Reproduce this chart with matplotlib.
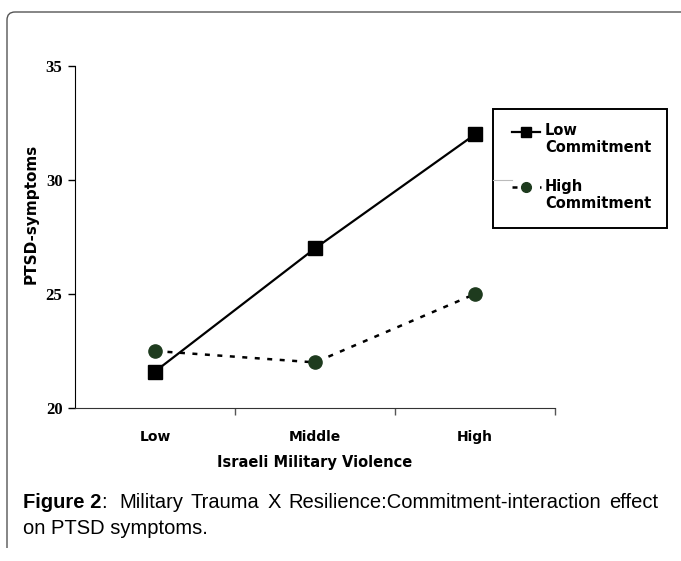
import matplotlib
matplotlib.use("Agg")
import matplotlib.pyplot as plt
from matplotlib.path import Path
from matplotlib.patches import PathPatch, Rectangle
from matplotlib.lines import Line2D

categories = ["Low", "Middle", "High"]
low_commitment = [21.6, 27.0, 32.0]
high_commitment = [22.5, 22.0, 25.0]
y_ticks = [20, 25, 30, 35]
series_names = ["Low\nCommitment", "High\nCommitment"]
caption_words = ["Military", "Trauma", "X", "Resilience:Commitment-interaction", "effect"]

W, H = 681, 561
fig = plt.figure(figsize=(W / 100, H / 100), dpi=100)

def fx(px):
    return px / W

def fy(py):
    return 1 - py / H

ax = fig.add_axes([fx(75), fy(408), fx(555) - fx(75), fy(66) - fy(408)])
xs = [i + 0.5 for i in range(len(categories))]

low_style = dict(color="black", lw=1.6, marker="s", markerfacecolor="black",
                 markeredgecolor="black")
high_style = dict(color="black", lw=1.8, linestyle=(0, (2, 3)), marker="o",
                  markerfacecolor="#1e3b1e", markeredgecolor="#1e3b1e")

ax.plot(xs, low_commitment, markersize=9.5, **low_style)
ax.plot(xs, high_commitment, markersize=9.5, **high_style)

ax.set_xlim(0, len(categories))
ax.set_ylim(min(y_ticks), max(y_ticks))
ax.set_yticks(y_ticks)
ax.set_yticklabels([str(t) for t in y_ticks], fontfamily="Liberation Serif",
                   fontweight="bold", fontsize=12)
ax.set_xticks([1, 2, 3])
ax.set_xticklabels([])
ax.set_xticks(xs, minor=True)
ax.set_xticklabels(categories, minor=True, fontfamily="DejaVu Sans",
                   fontweight="bold", fontsize=10)
ax.tick_params(axis="x", which="minor", length=0, pad=16)
ax.tick_params(axis="x", which="major", length=5, direction="out", width=1, color="#555555")
ax.tick_params(axis="y", length=5, direction="out", width=1, pad=4)

for s in ["top", "right"]:
    ax.spines[s].set_visible(False)
ax.spines["bottom"].set_color("#333333")

ax.set_xlabel("Israeli Military Violence", fontfamily="DejaVu Sans",
              fontweight="bold", fontsize=10.5, labelpad=8)
ax.set_ylabel("PTSD-symptoms", fontfamily="DejaVu Sans", fontweight="bold",
              fontsize=11)
ax.yaxis.set_label_coords((39 - 75) / 480, (408 - 214) / 342)

# legend (drawn in figure pixel coordinates)
fig.add_artist(Rectangle((fx(493), fy(228)), fx(667) - fx(493), fy(109) - fy(228),
                         transform=fig.transFigure, fill=True, facecolor="white",
                         edgecolor="black", lw=1.4, zorder=1))
fig.add_artist(Line2D([fx(512), fx(540)], [fy(132), fy(132)],
                      color="black", lw=1.6, zorder=3))
fig.add_artist(Line2D([fx(526)], [fy(132)], marker="s", markersize=6.5,
                      color="black", linestyle="none", zorder=4))
fig.add_artist(Line2D([fx(512), fx(541)], [fy(187), fy(187)], color="black",
                      lw=1.8, linestyle=(0, (2, 3.5)), zorder=3))
fig.add_artist(Line2D([fx(526)], [fy(187)], marker="o", markersize=7,
                      color="#1e3b1e", linestyle="none", zorder=4))
fig.add_artist(Line2D([fx(493), fx(512)], [fy(180), fy(180)], color="#bbbbbb",
                      lw=0.8, zorder=2))
leg_font = dict(fontfamily="DejaVu Sans", fontweight="bold", fontsize=10.5,
                va="top", ha="left", linespacing=1.15, zorder=5)
fig.text(fx(545), fy(123), series_names[0], **leg_font)
fig.text(fx(545), fy(179), series_names[1], **leg_font)

# figure border with rounded top-left corner
r = 8
verts = [(W, 12), (7 + r, 12), (7, 12), (7, 12 + r), (7, 548)]
codes = [Path.MOVETO, Path.LINETO, Path.CURVE3, Path.CURVE3, Path.LINETO]
verts_f = [(fx(x), fy(y)) for x, y in verts]
fig.add_artist(PathPatch(Path(verts_f, codes), transform=fig.transFigure,
                         fill=False, edgecolor="#555555", lw=1.0))

# caption: first line justified between x=23 and x=658
cap = dict(fontfamily="Liberation Sans", fontsize=14.5, va="center")
renderer = fig.canvas.get_renderer()
t1 = fig.text(fx(23), fy(503), "Figure 2", fontweight="bold", ha="left", **cap)
bb = t1.get_window_extent(renderer)
colon = fig.text(bb.x1 / W, fy(503), ":", ha="left", **cap)
start = colon.get_window_extent(renderer).x1 + 12
end = 658
widths = []
tmp = []
for w in caption_words:
    t = fig.text(0, 0, w, **cap)
    widths.append(t.get_window_extent(renderer).width)
    tmp.append(t)
gap = (end - start - sum(widths)) / (len(caption_words) - 1)
x = start
for t, wdt in zip(tmp, widths):
    t.set_position((x / W, fy(503)))
    x += wdt + gap
fig.text(fx(23), fy(528), "on PTSD symptoms.", ha="left", **cap)

fig.savefig("out.png", dpi=100)
